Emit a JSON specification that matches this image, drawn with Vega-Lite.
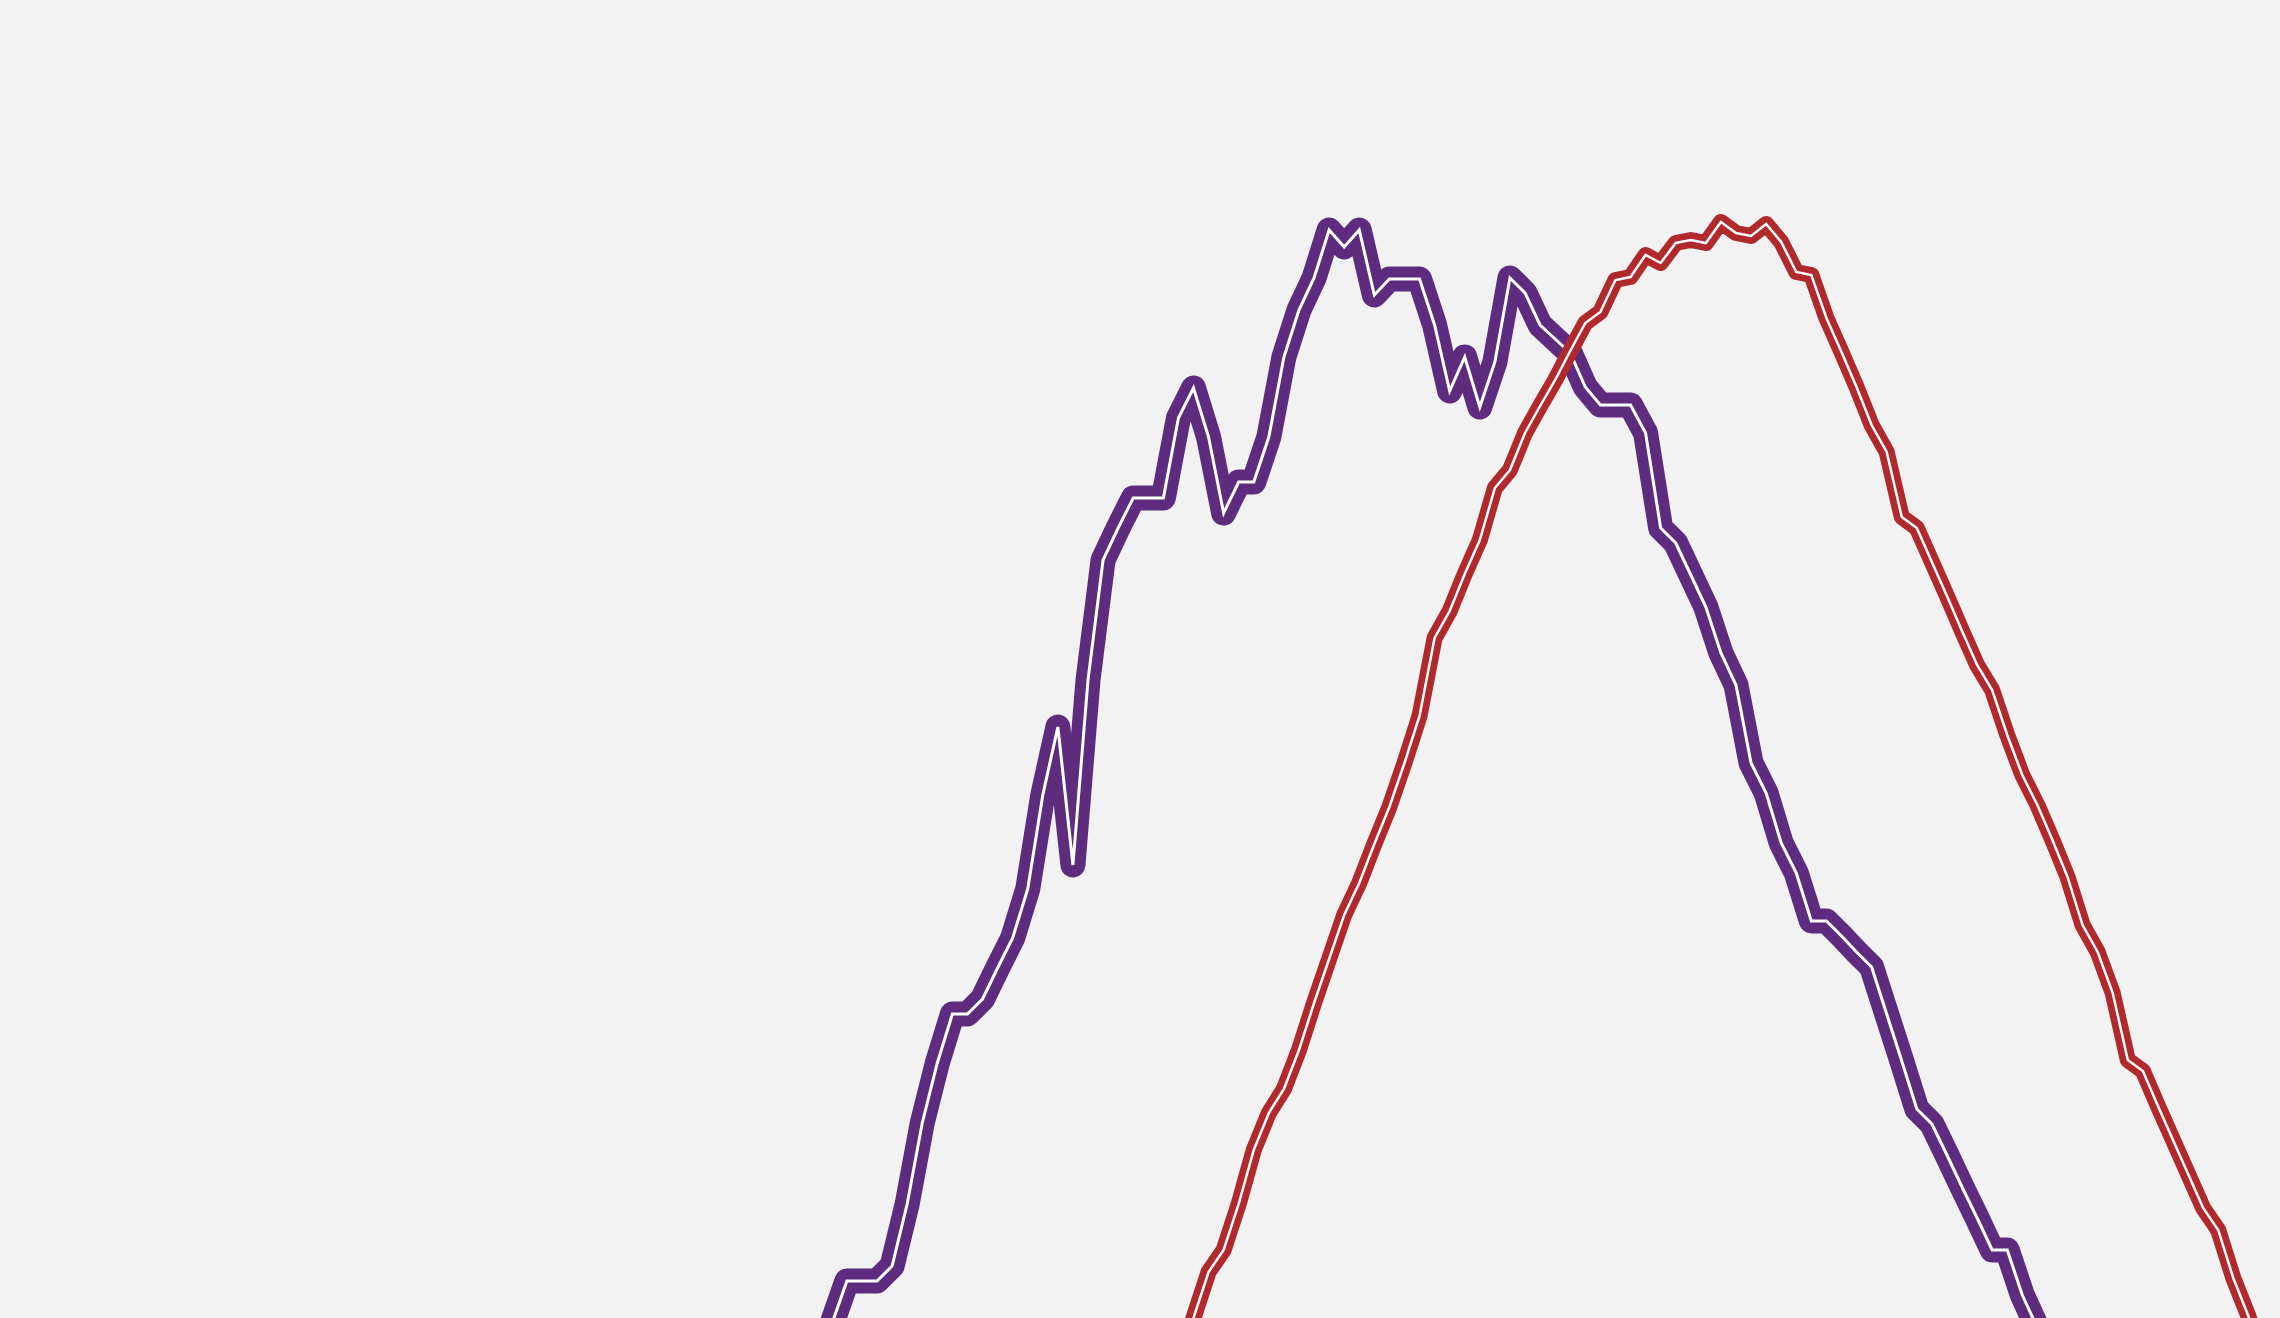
{
  "$schema": "https://vega.github.io/schema/vega-lite/v6.json",
  "width": 2280,
  "height": 1318,
  "autosize": {"type": "fit", "contains": "padding"},
  "padding": 0,
  "background": "#f2f2f2",
  "config": {"view": {"stroke": null}},
  "datasets": {
    "purple": [
      {"i": 54, "v": -5.2}, {"i": 55, "v": -0.6}, {"i": 56, "v": 3.7}, {"i": 57, "v": 3.7}, {"i": 58, "v": 3.7},
      {"i": 59, "v": 5.2}, {"i": 60, "v": 11.4}, {"i": 61, "v": 19.5}, {"i": 62, "v": 25.5}, {"i": 63, "v": 30.4},
      {"i": 64, "v": 30.4}, {"i": 65, "v": 31.9}, {"i": 66, "v": 35.0}, {"i": 67, "v": 38.0}, {"i": 68, "v": 42.9},
      {"i": 69, "v": 52.3}, {"i": 70, "v": 59.1}, {"i": 71, "v": 45.3}, {"i": 72, "v": 63.8}, {"i": 73, "v": 75.8},
      {"i": 74, "v": 79.0}, {"i": 75, "v": 82.0}, {"i": 76, "v": 82.0}, {"i": 77, "v": 82.0}, {"i": 78, "v": 90.0},
      {"i": 79, "v": 93.0}, {"i": 80, "v": 88.1}, {"i": 81, "v": 80.5}, {"i": 82, "v": 83.6}, {"i": 83, "v": 83.6},
      {"i": 84, "v": 88.1}, {"i": 85, "v": 96.1}, {"i": 86, "v": 100.8}, {"i": 87, "v": 104.0}, {"i": 88, "v": 108.8},
      {"i": 89, "v": 107.1}, {"i": 90, "v": 108.8}, {"i": 91, "v": 102.3}, {"i": 92, "v": 103.9}, {"i": 93, "v": 103.9},
      {"i": 94, "v": 103.9}, {"i": 95, "v": 99.3}, {"i": 96, "v": 92.7}, {"i": 97, "v": 96.1}, {"i": 98, "v": 91.1},
      {"i": 99, "v": 95.6}, {"i": 100, "v": 104.0}, {"i": 101, "v": 102.5}, {"i": 102, "v": 99.3}, {"i": 103, "v": 97.9},
      {"i": 104, "v": 96.5}, {"i": 105, "v": 93.1}, {"i": 106, "v": 91.3}, {"i": 107, "v": 91.3}, {"i": 108, "v": 91.3},
      {"i": 109, "v": 88.5}, {"i": 110, "v": 79.0}, {"i": 111, "v": 77.5}, {"i": 112, "v": 74.3}, {"i": 113, "v": 71.1},
      {"i": 114, "v": 66.5}, {"i": 115, "v": 63.3}, {"i": 116, "v": 55.5}, {"i": 117, "v": 52.5}, {"i": 118, "v": 47.5},
      {"i": 119, "v": 44.5}, {"i": 120, "v": 39.7}, {"i": 121, "v": 39.7}, {"i": 122, "v": 38.2}, {"i": 123, "v": 36.6},
      {"i": 124, "v": 35.1}, {"i": 125, "v": 30.4}, {"i": 126, "v": 25.7}, {"i": 127, "v": 20.9}, {"i": 128, "v": 19.4},
      {"i": 129, "v": 16.3}, {"i": 130, "v": 13.1}, {"i": 131, "v": 10.0}, {"i": 132, "v": 6.8}, {"i": 133, "v": 6.8},
      {"i": 134, "v": 2.3}, {"i": 135, "v": -1.0}, {"i": 136, "v": -5.2}
    ],
    "red": [
      {"i": 78, "v": -4.7}, {"i": 79, "v": 0.0}, {"i": 80, "v": 4.6}, {"i": 81, "v": 6.8}, {"i": 82, "v": 11.4},
      {"i": 83, "v": 16.8}, {"i": 84, "v": 20.5}, {"i": 85, "v": 22.9}, {"i": 86, "v": 26.8}, {"i": 87, "v": 31.5},
      {"i": 88, "v": 35.9}, {"i": 89, "v": 40.3}, {"i": 90, "v": 43.5}, {"i": 91, "v": 47.4}, {"i": 92, "v": 51.1},
      {"i": 93, "v": 55.5}, {"i": 94, "v": 60.2}, {"i": 95, "v": 68.0}, {"i": 96, "v": 70.7}, {"i": 97, "v": 74.4},
      {"i": 98, "v": 77.8}, {"i": 99, "v": 83.0}, {"i": 100, "v": 84.8}, {"i": 101, "v": 88.5}, {"i": 102, "v": 91.2},
      {"i": 103, "v": 93.8}, {"i": 104, "v": 96.7}, {"i": 105, "v": 99.5}, {"i": 106, "v": 100.6}, {"i": 107, "v": 103.8},
      {"i": 108, "v": 104.1}, {"i": 109, "v": 106.3}, {"i": 110, "v": 105.5}, {"i": 111, "v": 107.5}, {"i": 112, "v": 107.8},
      {"i": 113, "v": 107.5}, {"i": 114, "v": 109.6}, {"i": 115, "v": 108.5}, {"i": 116, "v": 108.2}, {"i": 117, "v": 109.4},
      {"i": 118, "v": 107.6}, {"i": 119, "v": 104.6}, {"i": 120, "v": 104.3}, {"i": 121, "v": 100.0}, {"i": 122, "v": 96.6},
      {"i": 123, "v": 93.1}, {"i": 124, "v": 89.3}, {"i": 125, "v": 86.6}, {"i": 126, "v": 80.1}, {"i": 127, "v": 79.0},
      {"i": 128, "v": 75.6}, {"i": 129, "v": 72.2}, {"i": 130, "v": 68.7}, {"i": 131, "v": 65.3}, {"i": 132, "v": 62.8},
      {"i": 133, "v": 58.3}, {"i": 134, "v": 54.3}, {"i": 135, "v": 51.3}, {"i": 136, "v": 47.8}, {"i": 137, "v": 44.1},
      {"i": 138, "v": 39.3}, {"i": 139, "v": 36.6}, {"i": 140, "v": 32.5}, {"i": 141, "v": 25.8}, {"i": 142, "v": 24.7},
      {"i": 143, "v": 21.2}, {"i": 144, "v": 17.8}, {"i": 145, "v": 14.4}, {"i": 146, "v": 11.0}, {"i": 147, "v": 8.8},
      {"i": 148, "v": 4.0}, {"i": 149, "v": 0.2}, {"i": 150, "v": -4.7}, {"i": 151, "v": -8.2}
    ]
  },
  "encoding": {
    "x": {"field": "i", "type": "quantitative", "scale": {"domain": [-0.2, 151.1], "nice": false, "zero": false}, "axis": null},
    "y": {"field": "v", "type": "quantitative", "scale": {"domain": [0, 131.8], "nice": false, "zero": false}, "axis": null}
  },
  "layer": [
    {"data": {"name": "purple"}, "mark": {"type": "line", "stroke": "#5e2c7e", "strokeWidth": 25, "strokeJoin": "round", "clip": true}},
    {"data": {"name": "purple"}, "mark": {"type": "line", "stroke": "#ffffff", "strokeWidth": 3, "strokeJoin": "miter", "clip": true}},
    {"data": {"name": "red"}, "mark": {"type": "line", "stroke": "#b0292d", "strokeWidth": 16, "strokeJoin": "round", "clip": true}},
    {"data": {"name": "red"}, "mark": {"type": "line", "stroke": "#ffffff", "strokeWidth": 2.5, "strokeJoin": "miter", "clip": true}}
  ]
}
